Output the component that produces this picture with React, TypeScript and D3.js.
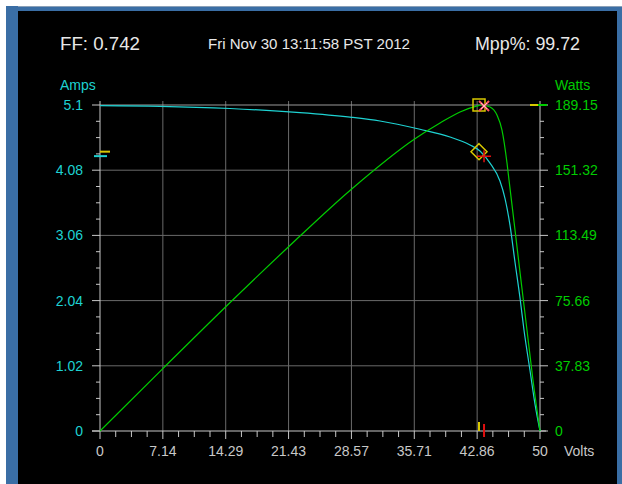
import * as d3 from "d3";

// IV curve (amps vs volts)
const ivVolts = [0, 6.82, 14.77, 22.73, 28.41, 31.82, 36.36, 39.77, 42.05, 43.18, 44.32, 45.45, 46.02, 46.59, 47.16, 47.73, 48.18, 48.86, 49.43, 50];
const ivAmps = [5.09, 5.08, 5.045, 4.98, 4.91, 4.85, 4.72, 4.6, 4.475, 4.38, 4.19, 3.91, 3.64, 3.22, 2.64, 2.08, 1.58, 0.95, 0.42, 0];

// PV curve (watts vs volts)
const pvVolts = [0, 7.14, 14.29, 21.43, 28.57, 35.71, 38.64, 40.91, 42.86, 43.3, 44.32, 45.11, 45.68, 46.25, 46.48, 47.16, 47.73, 48.52, 49.2, 50];
const pvWatts = [0, 36.2, 72.1, 106.9, 140.3, 169.3, 178.7, 185.1, 188.6, 189.15, 188.0, 183.3, 174.6, 155.5, 145.6, 116.6, 92, 58.6, 29.6, 0];

const ampTicks = ["0", "1.02", "2.04", "3.06", "4.08", "5.1"];
const wattTicks = ["0", "37.83", "75.66", "113.49", "151.32", "189.15"];
const voltTicks = ["0", "7.14", "14.29", "21.43", "28.57", "35.71", "42.86", "50"];

// max power point (yellow) and tracker point (red)
const mppYellow = { v: 43.07, a: 4.37, w: 189.15 };
const mppRed = { v: 43.64, a: 4.3, w: 188.6 };

const header = { ff: "FF: 0.742", date: "Fri Nov 30 13:11:58 PST 2012", mpp: "Mpp%: 99.72" };

const cyan = "#1ed2d2";
const green = "#00cc00";
const yellow = "#d8c800";
const red = "#e01010";
const axisCol = "#c8c8c8";
const gridCol = "#6a6a6a";
const font = "'Liberation Sans', Arial, sans-serif";

export default function App() {
  const x0 = 100, x1 = 540, yTop = 105, yBot = 431;
  const x = d3.scaleLinear().domain([0, 50]).range([x0, x1]);
  const yA = d3.scaleLinear().domain([0, 5.1]).range([yBot, yTop]);
  const yW = d3.scaleLinear().domain([0, 189.15]).range([yBot, yTop]);

  const ivLine = d3.line<number>().x((_, i) => x(ivVolts[i])).y((d) => yA(d)).curve(d3.curveMonotoneX);
  const pvLine = d3.line<number>().x((_, i) => x(pvVolts[i])).y((d) => yW(d)).curve(d3.curveMonotoneX);

  const vMajor = voltTicks.map((_, i) => (50 * i) / (voltTicks.length - 1));
  const vMinor = d3.range(0, 28 + 1).map((i) => (50 * i) / 28);
  const aMajor = ampTicks.map(Number);
  const aMinor = d3.range(0, 21).map((i) => (5.1 * i) / 20);

  const ys = yA(mppYellow.a), yr = yA(mppRed.a);
  const xs = x(mppYellow.v), xr = x(mppRed.v);
  const pTopY = yW(mppYellow.w), pRedY = yW(mppRed.w);

  return (
    <svg width={622} height={484} style={{ position: "absolute", left: 0, top: 0 }} fontFamily={font}>
      <rect x={0} y={0} width={622} height={484} fill="#ffffff" />
      <rect x={6} y={6} width={616} height={478} fill="#3a6ea5" />
      <line x1={18} x2={622} y1={6.5} y2={6.5} stroke="#8aa0b8" />
      <rect x={18} y={11} width={599} height={473} fill="#000000" />

      {/* header */}
      <text x={60} y={50} fill="#e8e8e8" fontSize={18} textLength={80} lengthAdjust="spacingAndGlyphs">{header.ff}</text>
      <text x={208} y={49} fill="#e8e8e8" fontSize={15} textLength={202} lengthAdjust="spacingAndGlyphs">{header.date}</text>
      <text x={475} y={50} fill="#e8e8e8" fontSize={18} textLength={105} lengthAdjust="spacingAndGlyphs">{header.mpp}</text>

      <text x={60} y={90} fill={cyan} fontSize={14}>Amps</text>
      <text x={555} y={90} fill={green} fontSize={14}>Watts</text>

      {/* grid */}
      {vMajor.slice(1, -1).map((v, i) => (
        <line key={"gv" + i} x1={x(v)} x2={x(v)} y1={yTop - 4} y2={yBot} stroke={gridCol} />
      ))}
      {aMajor.slice(1).map((a, i) => (
        <line key={"ga" + i} x1={x0} x2={x1} y1={yA(a)} y2={yA(a)} stroke={i === aMajor.length - 2 ? "#9a9a9a" : gridCol} />
      ))}

      {/* axes */}
      <line x1={x0} x2={x0} y1={yTop - 4} y2={yBot} stroke={axisCol} />
      <line x1={x1} x2={x1} y1={yTop - 4} y2={yBot} stroke={axisCol} />
      <line x1={92} x2={546} y1={yBot} y2={yBot} stroke={axisCol} />
      {aMinor.map((a, i) => {
        const major = i % 4 === 0;
        return (
          <g key={"ta" + i}>
            <line x1={x0 - (major ? 8 : 4)} x2={x0} y1={yA(a)} y2={yA(a)} stroke={axisCol} />
            <line x1={x1} x2={x1 + (major ? 8 : 4)} y1={yA(a)} y2={yA(a)} stroke={axisCol} />
          </g>
        );
      })}
      {vMinor.map((v, i) => (
        <line key={"tv" + i} x1={x(v)} x2={x(v)} y1={yBot} y2={yBot + (i % 4 === 0 ? 8 : 6)} stroke={axisCol} />
      ))}

      {/* tick labels */}
      {ampTicks.map((t, i) => (
        <text key={"la" + i} x={83} y={yA(aMajor[i]) + 5} fill={cyan} fontSize={14} textAnchor="end">{t}</text>
      ))}
      {wattTicks.map((t, i) => (
        <text key={"lw" + i} x={555} y={yA(aMajor[i]) + 5} fill={green} fontSize={14}>{t}</text>
      ))}
      {voltTicks.map((t, i) => (
        <text key={"lv" + i} x={x(vMajor[i])} y={456} fill={axisCol} fontSize={14} textAnchor="middle">{t}</text>
      ))}
      <text x={564} y={456} fill={axisCol} fontSize={14}>Volts</text>

      {/* curves */}
      <path d={ivLine(ivAmps) ?? ""} fill="none" stroke={cyan} strokeWidth={1.2} />
      <path d={pvLine(pvWatts) ?? ""} fill="none" stroke={green} strokeWidth={1.2} />

      {/* edge markers */}
      <line x1={x0} x2={x0 + 10} y1={ys} y2={ys} stroke={yellow} strokeWidth={2} />
      <line x1={x0 - 6} x2={x0 + 7} y1={yr} y2={yr} stroke={cyan} strokeWidth={2} />
      <line x1={xs} x2={xs} y1={yBot - 9} y2={yBot} stroke={yellow} strokeWidth={2} />
      <line x1={xr} x2={xr} y1={yBot - 7} y2={yBot + 6} stroke={red} strokeWidth={2} />
      <line x1={x1 - 10} x2={x1 - 2} y1={pTopY} y2={pTopY} stroke={yellow} strokeWidth={2} />
      <line x1={x1 - 2} x2={x1 + 7} y1={pTopY} y2={pTopY} stroke={green} strokeWidth={2} />

      {/* MPP markers */}
      <rect x={xs - 6} y={pTopY - 6} width={12} height={12} fill="none" stroke={yellow} strokeWidth={1.5} />
      <path d={`M${xr - 5},${pRedY - 5}L${xr + 5},${pRedY + 5}M${xr - 5},${pRedY + 5}L${xr + 5},${pRedY - 5}`} stroke="#ff5060" strokeWidth={2} />
      <path d={`M${xr - 3},${pRedY - 3}L${xr + 3},${pRedY + 3}M${xr - 3},${pRedY + 3}L${xr + 3},${pRedY - 3}`} stroke="#ffc8d0" strokeWidth={1} />
      <path d={`M${xs},${ys - 8}L${xs + 8},${ys}L${xs},${ys + 8}L${xs - 8},${ys}Z`} fill="none" stroke={yellow} strokeWidth={1.5} />
      <path d={`M${xr - 7},${yr}L${xr + 7},${yr}M${xr},${yr - 6}L${xr},${yr + 6}`} stroke={red} strokeWidth={1.5} />
    </svg>
  );
}
